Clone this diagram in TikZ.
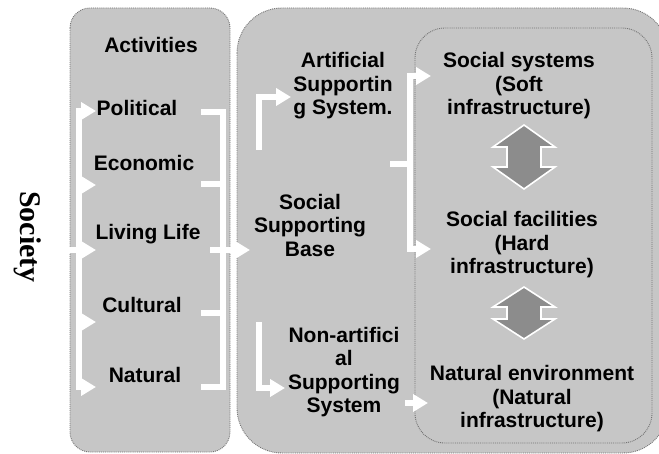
\documentclass[tikz,border=0pt]{standalone}
\usepackage{fontspec}
\setmainfont{Liberation Sans}
\newfontfamily\societyfont{Liberation Serif}
\usetikzlibrary{positioning}
\usetikzlibrary{arrows.meta}
\definecolor{boxgray}{RGB}{198,198,198}
\definecolor{rimgray}{RGB}{115,115,115}
\definecolor{dblgray}{RGB}{140,140,140}
\tikzset{
    panel/.style = {draw=rimgray, densely dotted, line width=0.9pt, fill=boxgray},
    txt/.style = {align=center, inner sep=0pt, text=black, font=\bfseries\fontsize{21}{23.5}\selectfont},
    soctxt/.style = {inner sep=0pt, rotate=-90, font=\societyfont\bfseries\fontsize{30}{30}\selectfont},
    wline/.style = {-, line width=6pt, white, line cap=rect},
    warrow/.style = {-{Triangle[length=15pt,width=17pt]}, line width=6pt, white},
    dblarr/.style = {draw=white, line width=1.6pt, fill=dblgray, line join=miter}
}
\begin{document}
\begin{tikzpicture}[x=1pt,y=-1pt]
\useasboundingbox (0,0) rectangle (659,454);
%
\draw[panel, rounded corners=20pt] (70,8) rectangle (230,452);
\draw[panel, rounded corners=45pt] (237,8) rectangle (668,453);
\draw[panel, rounded corners=30pt] (415,28) rectangle (652,443);
%
\node[soctxt] at (28,237) (soc) {Society};
\node[txt] at (151,45) (act) {Activities};
\node[txt] at (137,108) (pol) {Political};
\node[txt] at (144,163) (eco) {Economic};
\node[txt] at (148,234) (liv) {Living Life};
\node[txt] at (142,305) (cul) {Cultural};
\node[txt] at (145,375) (nat) {Natural};
\node[txt] at (343,86) (art) {Artificial\\Supportin\\g System.};
\node[txt] at (310,225) (base) {Social\\Supporting\\Base};
\node[txt] at (344,372) (non) {Non-artifici\\al\\Supporting\\System};
\node[txt] at (519,86) (soft) {Social systems\\(Soft\\infrastructure)};
\node[txt] at (522,245) (hard) {Social facilities\\(Hard\\infrastructure)};
\node[txt] at (532,399) (env) {Natural environment\\(Natural\\infrastructure)};
%
\coordinate (lspine) at (79,0);
\coordinate (soc-out) at (68,250);
\coordinate (pol-in) at (96,111);
\coordinate (eco-in) at (96,185);
\coordinate (liv-in) at (96,250);
\coordinate (cul-in) at (96,322);
\coordinate (nat-in) at (96,387);
\draw[wline] (lspine |- pol-in) -- (lspine |- nat-in);
\draw[warrow] (lspine |- pol-in) -- (pol-in);
\draw[warrow] (lspine |- eco-in) -- (eco-in);
\draw[warrow] (soc-out) -- (liv-in);
\draw[warrow] (lspine |- cul-in) -- (cul-in);
\draw[warrow] (lspine |- nat-in) -- (nat-in);
%
\coordinate (rspine) at (223,0);
\coordinate (pol-out) at (204,112);
\coordinate (eco-out) at (204,184);
\coordinate (liv-out) at (210,250);
\coordinate (cul-out) at (204,313);
\coordinate (nat-out) at (204,387);
\coordinate (base-in) at (250,250);
\draw[wline] (pol-out) -| (rspine |- nat-out) -- (nat-out);
\draw[wline] (eco-out) -- (rspine |- eco-out);
\draw[wline] (cul-out) -- (rspine |- cul-out);
\draw[warrow] (liv-out) -- (base-in);
%
\coordinate (art-from) at (259,150);
\coordinate (art-in) at (291,97);
\coordinate (non-from) at (259,322);
\coordinate (non-in) at (285,388);
\draw[warrow] (art-from) |- (art-in);
\draw[warrow] (non-from) |- (non-in);
%
\coordinate (mspine) at (410,0);
\coordinate (base-out) at (393,164);
\coordinate (soft-in) at (431,76);
\coordinate (hard-in) at (431,249);
\coordinate (non-out) at (405,403);
\coordinate (env-in) at (428,403);
\draw[wline] (base-out) -- (mspine |- base-out);
\draw[warrow] (mspine |- base-out) |- (soft-in);
\draw[warrow] (mspine |- base-out) |- (hard-in);
\draw[warrow] (non-out) -- (env-in);
%
\draw[dblarr, shift={(524,157)}] (0,-32) -- (31,-10) -- (17,-10) -- (17,10) -- (31,10) -- (0,32)
    -- (-31,10) -- (-17,10) -- (-17,-10) -- (-31,-10) -- cycle;
\draw[dblarr, shift={(524,313)}] (0,-26) -- (31,-6) -- (17,-6) -- (17,6) -- (31,6) -- (0,26)
    -- (-31,6) -- (-17,6) -- (-17,-6) -- (-31,-6) -- cycle;
\end{tikzpicture}
\end{document}
